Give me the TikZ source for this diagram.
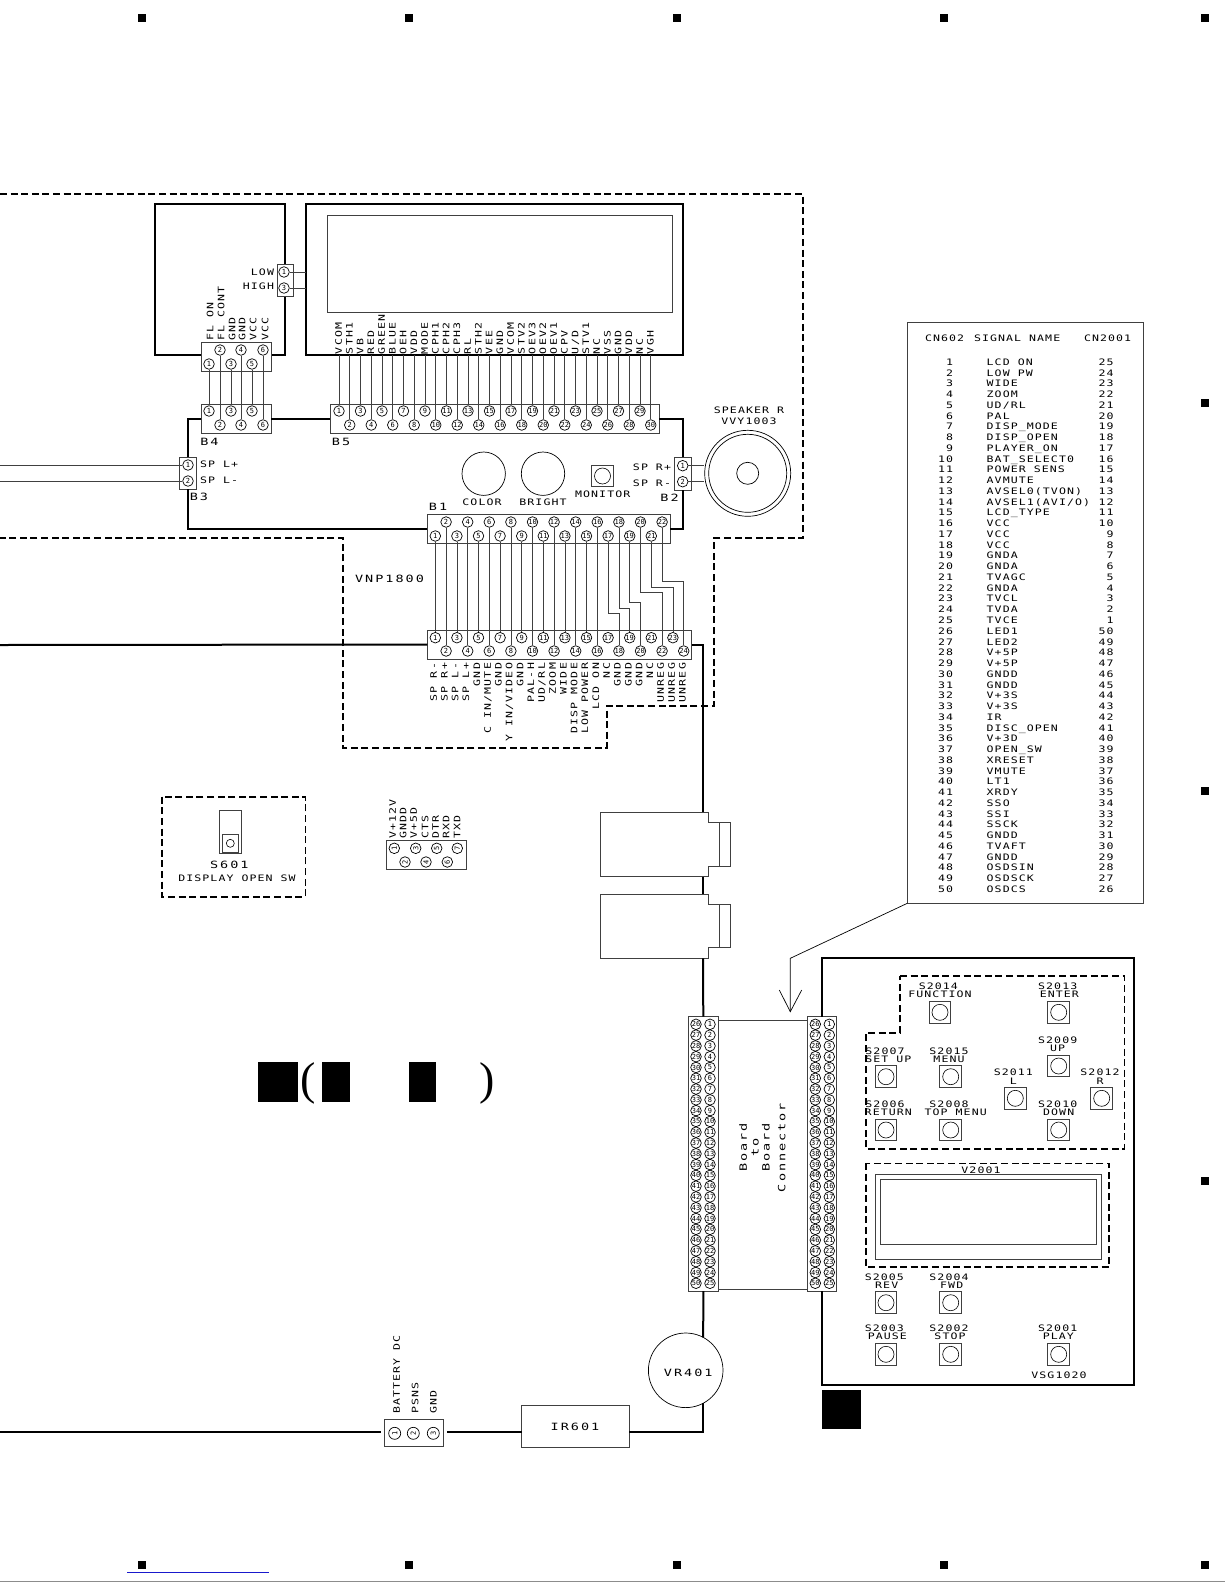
\documentclass[tikz,border=0pt]{standalone}
\usepackage{fontspec}
\setmainfont[FakeStretch=1.3,LetterSpace=12]{DejaVu Sans Mono}
\newfontfamily\widefont[FakeStretch=1.35,LetterSpace=20]{DejaVu Sans Mono}
\newfontfamily\numfont{DejaVu Sans Mono}
\newfontfamily\parfont{Liberation Serif}
\newcommand{\labfont}{\fontsize{8.9}{9}\selectfont}
\newcommand{\bigfont}{\widefont\fontsize{10}{10}\selectfont}
\newcommand{\pinfont}{\numfont\fontsize{7}{7}\selectfont}
\definecolor{wire}{gray}{0.25}
\definecolor{linkblue}{rgb}{0.1,0.1,0.8}
\definecolor{pagerule}{gray}{0.55}

\begin{document}
\begin{tikzpicture}[x=1pt,y=-1pt]
    \tikzset{%
      every node/.style={font=\labfont},
      lab/.style={inner sep=0pt, outer sep=0pt, text height=6.5pt, text depth=0pt},
      big/.style={lab, font=\bigfont, text height=7.3pt},
      uplab/.style={lab, rotate=90, anchor=west},
      dnlab/.style={lab, rotate=90, anchor=east},
      pin/.style={circle, draw, line width=0.7pt, inner sep=0pt, minimum size=10.6pt, font=\pinfont},
      conn/.style={rectangle, draw=wire, fill=white, line width=0.8pt, inner sep=0pt, outer sep=0pt},
      hbox/.style={rectangle, draw, line width=2pt, inner sep=0pt, outer sep=0pt},
      tbox/.style={rectangle, draw=wire, line width=0.8pt, inner sep=0pt, outer sep=0pt},
      btn/.style={tbox, minimum size=21.7pt},
      btnc/.style={circle, draw, line width=0.6pt, inner sep=0pt, minimum size=16pt},
      regmark/.style={rectangle, fill=black, inner sep=0pt, minimum size=8pt},
      blk/.style={rectangle, fill=black, inner sep=0pt, outer sep=0pt},
      hvy/.style={line width=2pt},
      thn/.style={line width=0.7pt, draw=wire},
      dsh/.style={line width=1.6pt, dash pattern=on 7pt off 3.6pt},
    }
    \useasboundingbox (0,0) rectangle (1225,1585);
    \fill[white] (0,0) rectangle (1225,1585);

    % marks on the margins
    \foreach \x/\n in {142.4/a,409/b,676.6/c,944/d,1205/e}{
      \node[regmark] (regt\n) at (\x,18) {};
      \node[regmark] (regb\n) at (\x,1565) {};
    }
    \foreach \y/\n in {403/a,791/b,1180.5/c}{
      \node[regmark] (regr\n) at (1205,\y) {};
    }
    \draw[pagerule, line width=0.6pt] (0,1581.6) -- (1225,1581.6);
    \draw[linkblue, line width=0.7pt] (127,1572.5) -- (269,1572.5);

    % display board outline
    \draw[dsh] (0,194) -- (803,194) -- (803,538) -- (714,538) -- (714,705.7)
      -- (606.7,705.7) -- (606.7,747.7) -- (342.7,747.7) -- (342.7,538) -- (0,538);

    \node[hbox, minimum width=130pt, minimum height=151pt] (flbox) at (220,279.5) {};
    \node[hbox, minimum width=377pt, minimum height=150.5pt] (lcd) at (494.5,279.25) {};
    \node[tbox, minimum width=345pt, minimum height=97pt] (lcdin) at (499.5,263.5) {};

    % LOW / HIGH
    \node[conn, minimum width=16pt, minimum height=32pt] (lohi) at (285,280) {};
    \node[pin] (lh1) at (284,272) {1};
    \node[pin] (lh3) at (284,288) {3};
    \draw[thn] (lh1) -- (lh1 -| lcd.west);
    \draw[thn] (lh3) -- (lh3 -| lcd.west);
    \node[lab, anchor=east] (lowlab) at (274,272.7) {LOW};
    \node[lab, anchor=east] (highlab) at (274,286.7) {HIGH};

    % B4 with its plug
    \node[conn, minimum width=70pt, minimum height=29pt] (flc) at (236,356.5) {};
    \node[conn, minimum width=70pt, minimum height=29pt] (b4) at (236,418.5) {};
    \foreach \i/\x in {1/209,3/231,5/252}{
      \node[pin] (fa\i) at (\x,364) {\i};
      \node[pin] (ba\i) at (\x,411) {\i};
      \draw[thn] (fa\i) -- (ba\i);
    }
    \foreach \i/\x in {2/220,4/241,6/263}{
      \node[pin] (fa\i) at (\x,350) {\i};
      \node[pin] (ba\i) at (\x,425) {\i};
      \draw[thn] (fa\i) -- (ba\i);
    }
    \foreach \t/\x in {FL ON/210,FL CONT/221,GND/232,GND/242,VCC/253,VCC/265}{
      \node[uplab] (fl\x) at (\x,340.7) {\t};
    }
    \node[big] (b4lab) at (209.5,441.7) {B4};

    % B5
    \node[conn, minimum width=329pt, minimum height=29pt] (b5) at (494.5,418.5) {};
    \foreach \i in {1,3,...,29}{
      \node[pin] (b5p\i) at ({339+(\i-1)*10.75},411) {\i};
    }
    \foreach \i in {2,4,...,30}{
      \node[pin] (b5p\i) at ({339+(\i-1)*10.75},425) {\i};
    }
    \foreach \t [count=\i] in {VCOM,STH1,VB,RED,GREEN,BLUE,OEH,VDD,MODE,CPH1,CPH2,CPH3,RL,STH2,VEE,GND,VCOM,STV2,OEV3,OEV2,OEV1,CPV,U/D,STV1,NC,VSS,GND,VDD,NC,VGH}{
      \draw[thn] (b5p\i.north) -- (b5p\i.north |- lcd.south);
      \node[uplab] (b5l\i) at ({338.5+(\i-1)*10.75},354) {\t};
    }
    \node[big] (b5lab) at (341,441.7) {B5};

    % B3, B2
    \node[conn, minimum width=17pt, minimum height=32pt] (b3) at (187.5,473) {};
    \node[pin] (b3p1) at (188,465) {1};
    \node[pin] (b3p2) at (188,481) {2};
    \coordinate (wl1) at (0,465);
    \coordinate (wl2) at (0,481);
    \draw[thn] (wl1) -- (b3p1);
    \draw[thn] (wl2) -- (b3p2);
    \node[lab, anchor=west] (splp) at (200,464.5) {SP L+};
    \node[lab, anchor=west] (spln) at (200,480.5) {SP L-};
    \node[big] (b3lab) at (199,497) {B3};

    \node[conn, minimum width=17pt, minimum height=33pt] (b2) at (682.5,473.5) {};
    \node[pin] (b2p1) at (682.7,465.7) {1};
    \node[pin] (b2p2) at (682.7,481.7) {2};
    \node[lab, anchor=east] (sprp) at (671,467) {SP R+};
    \node[lab, anchor=east] (sprn) at (671,483) {SP R-};
    \node[big] (b2lab) at (669.5,498) {B2};

    % speaker
    \node[circle, draw, line width=0.7pt, inner sep=0pt, minimum size=86pt] (spko) at (747.7,473.3) {};
    \node[circle, draw, line width=0.7pt, inner sep=0pt, minimum size=78pt] (spki) at (747.7,473.3) {};
    \node[circle, draw, line width=0.7pt, inner sep=0pt, minimum size=22pt] (spkc) at (747.7,473.3) {};
    \draw[thn] (b2p1) -- (b2p1 -| spko.west);
    \draw[thn] (b2p2) -- (b2p2 -| spko.west);
    \node[lab] (spklab) at (749,410) {SPEAKER R};
    \node[lab] (vvylab) at (749,421.7) {VVY1003};

    % knobs
    \node[circle, draw, line width=0.7pt, inner sep=0pt, minimum size=43.4pt] (color) at (483.7,473.7) {};
    \node[circle, draw, line width=0.7pt, inner sep=0pt, minimum size=43.4pt] (bright) at (543,473.7) {};
    \node[lab] (colorlab) at (482,502) {COLOR};
    \node[lab] (brightlab) at (543,502) {BRIGHT};
    \node[btn] (monitor) at (602.5,476) {};
    \node[btnc] (monc) at (monitor) {};
    \node[lab] (monlab) at (602.7,494) {MONITOR};

    % B1 and the connector below it
    \node[conn, minimum width=242.7pt, minimum height=29pt] (b1) at (548.6,528.5) {};
    \node[conn, minimum width=264.4pt, minimum height=29pt] (bl) at (559.5,644.5) {};
    \foreach \i in {1,3,...,21}{
      \node[pin] (b1p\i) at ({435.3+(\i-1)*10.8},536) {\i};
    }
    \foreach \i in {2,4,...,22}{
      \node[pin] (b1p\i) at ({435.3+(\i-1)*10.8},522) {\i};
    }
    \foreach \i in {1,3,...,23}{
      \node[pin] (blp\i) at ({435.3+(\i-1)*10.8},637.7) {\i};
    }
    \foreach \i in {2,4,...,24}{
      \node[pin] (blp\i) at ({435.3+(\i-1)*10.8},651) {\i};
    }
    \foreach \i in {1,...,16}{
      \draw[thn] (b1p\i) -- (blp\i);
    }
    \foreach \a/\b/\y in {17/18/613,18/19/608.3,19/20/602.7,20/22/592.3,21/23/587.3,22/24/581.7}{
      \draw[thn] (b1p\a) -- (b1p\a |- 0,\y) -| (blp\b);
    }
    \foreach \t [count=\i] in {SP R-,SP R+,SP L-,SP L+,GND,C IN/MUTE,GND,Y IN/VIDEO,GND,PAL-H,UD/RL,ZOOM,WIDE,DISP MODE,LOW POWER,LCD ON,NC,GND,GND,GND,NC,UNREG,UNREG,UNREG}{
      \node[dnlab] (bll\i) at ({433.5+(\i-1)*10.82},663) {\t};
    }
    \node[big] (b1lab) at (438,507) {B1};
    \node[big] (vnplab) at (389.5,578.7) {VNP1800};

    % board and harness
    \draw[hvy] (b4.west) -| (b3.north);
    \draw[hvy] (b4.east) -- (b5.west);
    \draw[hvy] (b5.east) -| (b2.north);
    \draw[hvy] (b2.south) |- (b1.east);
    \draw[hvy] (b3.south) |- (b1.west);
    \coordinate (wl3) at (0,645);
    \draw[hvy] (wl3) -- (bl.west);

    % S601
    \draw[dsh] (162,796.7) rectangle (305.3,896.7);
    \node[tbox, minimum width=21.7pt, minimum height=42.6pt] (s601) at (230.2,832) {};
    \node[tbox, minimum width=16pt, minimum height=18pt] (s601k) at (230.3,843.3) {};
    \node[circle, draw, line width=0.6pt, inner sep=0pt, minimum size=8pt] (s601c) at (s601k) {};
    \node[big] (s601lab) at (229.3,865) {S601};
    \node[lab] (s601txt) at (237,878.3) {DISPLAY OPEN SW};

    % seven pin connector
    \node[conn, minimum width=80.7pt, minimum height=29.3pt] (p7) at (426.3,854.6) {};
    \foreach \i/\x in {1/394.3,3/415.7,5/436.7,7/457.3}{
      \node[pin, rotate=90] (p7p\i) at (\x,848.3) {\i};
    }
    \foreach \i/\x in {2/405,4/426,6/447.3}{
      \node[pin, rotate=90] (p7p\i) at (\x,862) {\i};
    }
    \foreach \t/\x in {V+12V/392.7,GNDD/403,V+5D/413.7,CTS/425,DTR/435.7,RXD/446,TXD/457}{
      \node[uplab] (p7l\x) at (\x,838.3) {\t};
    }

    % title blanks
    \node[blk, minimum width=40pt, minimum height=40pt] (blka) at (278,1082) {};
    \node[blk, minimum width=28pt, minimum height=40pt] (blkb) at (336,1082) {};
    \node[blk, minimum width=27pt, minimum height=40pt] (blkc) at (422.5,1082) {};
    \node[lab, font=\parfont\fontsize{46}{46}\selectfont, text height=33pt, text depth=8pt] (para) at (308.5,1082) {(};
    \node[lab, font=\parfont\fontsize{46}{46}\selectfont, text height=33pt, text depth=8pt] (parb) at (487.5,1082) {)};

    % jacks
    \coordinate (j1t) at (703,812.3);
    \coordinate (j1b) at (703,876.7);
    \coordinate (j2t) at (703,894);
    \coordinate (j2b) at (703,958.3);
    \draw[thn] (600.7,812.3) -- (708.3,812.3) -- (708.3,822.7) -- (730,822.7) -- (730,866)
      -- (708.3,866) -- (708.3,876.7) -- (600.7,876.7) -- cycle;
    \draw[thn] (719.3,822.7) -- (719.3,866);
    \draw[thn] (600.7,894) -- (708.3,894) -- (708.3,904.3) -- (730,904.3) -- (730,947.3)
      -- (708.3,947.3) -- (708.3,958.3) -- (600.7,958.3) -- cycle;
    \draw[thn] (719.3,904.3) -- (719.3,947.3);
    \draw[hvy] (bl.east) -| (j1t);
    \draw[hvy] (j1b) -- (j2t);

    % board to board connector
    \node[conn, minimum width=30pt, minimum height=274.3pt] (cnl) at (703.3,1153.85) {};
    \node[conn, minimum width=29.7pt, minimum height=274.3pt] (cnr) at (821.85,1153.85) {};
    \draw[hvy] (j2b) -- (cnl.north);
    \foreach \i in {1,...,25}{
      \pgfmathtruncatemacro\j{\i+25}
      \node[pin] (cla\i) at (710,{1024.3+(\i-1)*10.79}) {\i};
      \node[pin] (cla\j) at (696,{1024.3+(\i-1)*10.79}) {\j};
      \node[pin] (cra\i) at (829.3,{1024.3+(\i-1)*10.79}) {\i};
      \node[pin] (cra\j) at (815.3,{1024.3+(\i-1)*10.79}) {\j};
    }
    \draw[thn] (cnl.east |- 0,1020) -- (cnr.west |- 0,1020);
    \draw[thn] (cnl.east |- 0,1289.3) -- (cnr.west |- 0,1289.3);
    \node[big, rotate=90] (bbl1) at (743.3,1147.5) {Board};
    \node[big, rotate=90] (bbl2) at (755,1147.5) {to};
    \node[big, rotate=90] (bbl3) at (766,1147.5) {Board};
    \node[big, rotate=90] (bbl4) at (781.7,1147.5) {Connector};

    % battery, IR, VR
    \node[conn, minimum width=59pt, minimum height=27pt] (bat) at (413.8,1432.5) {};
    \foreach \i/\x in {1/394.7,2/413.3,3/433.3}{
      \node[pin, rotate=90, minimum size=12pt] (batp\i) at (\x,1433.3) {\i};
    }
    \foreach \t/\x in {BATTERY DC/396.7,PSNS/415,GND/433.3}{
      \node[uplab] (batl\x) at (\x,1413.3) {\t};
    }
    \node[tbox, minimum width=107.6pt, minimum height=42pt] (ir) at (575.5,1426.7) {};
    \node[big] (irlab) at (575,1426.7) {IR601};
    \node[circle, draw, line width=0.7pt, inner sep=0pt, outer sep=0pt, minimum size=74.6pt] (vr) at (685.7,1370.3) {};
    \node[big] (vrlab) at (688.3,1372.7) {VR401};
    \coordinate (wl4) at (0,1431.7);
    \coordinate (batw) at (381,1431.7);
    \coordinate (bate) at (447.3,1431.7);
    \coordinate (irw) at (521.7,1431.7);
    \coordinate (ire) at (629.3,1431.7);
    \draw[hvy] (wl4) -- (batw);
    \draw[hvy] (bate) -- (irw);
    \draw[hvy] (vr.-62) |- (ire);
    \draw[hvy] (cnl.south) -- (vr.62);

    % signal table
    \node[tbox, minimum width=236pt, minimum height=580.6pt] (tbl) at (1025.3,613) {};
    \node[lab, anchor=west] (hda) at (925,338.3) {CN602};
    \node[lab, anchor=west] (hdb) at (974,338.3) {SIGNAL NAME};
    \node[lab, anchor=west] (hdc) at (1084,338.3) {CN2001};
    \foreach \s [count=\i] in {LCD ON,LOW PW,WIDE,ZOOM,UD/RL,PAL,DISP\_MODE,DISP\_OPEN,PLAYER\_ON,BAT\_SELECT0,POWER SENS,AVMUTE,AVSEL0(TVON),AVSEL1(AVI/O),LCD\_TYPE,VCC,VCC,VCC,GNDA,GNDA,TVAGC,GNDA,TVCL,TVDA,TVCE,LED1,LED2,V+5P,V+5P,GNDD,GNDD,V+3S,V+3S,IR,DISC\_OPEN,V+3D,OPEN\_SW,XRESET,VMUTE,LT1,XRDY,SSO,SSI,SSCK,GNDD,TVAFT,GNDD,OSDSIN,OSDSCK,OSDCS}{
      \pgfmathtruncatemacro\r{\i<26 ? 26-\i : 76-\i}
      \node[lab, anchor=east] (tla\i) at (953,{362+(\i-1)*10.76}) {\i};
      \node[lab, anchor=west] (tlb\i) at (986.7,{362+(\i-1)*10.76}) {\s};
      \node[lab, anchor=east] (tlc\i) at (1113.5,{362+(\i-1)*10.76}) {\r};
    }
    \coordinate (arb) at (790.3,958.3);
    \coordinate (art) at (790.3,1011.7);
    \coordinate (arl) at (779.3,990);
    \coordinate (arr) at (801.7,990);
    \draw[line width=0.7pt] (tbl.south west) -- (arb) -- (art);
    \draw[line width=0.7pt] (arl) -- (art) -- (arr);

    % front panel
    \coordinate (pna) at (821.85,958);
    \coordinate (pnb) at (1134,958);
    \coordinate (pnc) at (1134,1385);
    \coordinate (pnd) at (821.85,1385);
    \draw[hvy] (cnr.north) -- (pna) -- (pnb) -- (pnc) -- (pnd) -- (cnr.south);
    \draw[dsh] (900,976) -- (1124.3,976) -- (1124.3,1148.7) -- (865.7,1148.7)
      -- (865.7,1032.7) -- (900,1032.7) -- cycle;
    \draw[dsh] (865.7,1163.3) rectangle (1109,1266.7);
    \node[tbox, minimum width=226.4pt, minimum height=85.3pt] (vout) at (988.5,1216.65) {};
    \node[tbox, minimum width=216pt, minimum height=64.7pt] (vin) at (988.7,1211.65) {};
    \node[lab] (vlab) at (981,1170) {V2001};
    \foreach \id/\bx/\by/\ax/\ay/\tx/\ty/\t in {%
      S2014/940/1012.3/938.3/986.7/940/994.3/FUNCTION,
      S2013/1058.7/1012.3/1057.7/986.7/1059.3/994.3/ENTER,
      S2009/1058.7/1066/1057.7/1040/1057.7/1048.3/UP,
      S2007/886/1076.7/885/1051/888.3/1059/SET UP,
      S2015/950.7/1076.7/949/1051/949/1059/MENU,
      S2011/1015.3/1098.3/1013.3/1072.7/1013.3/1081/L,
      S2012/1101.7/1098.3/1100/1072.7/1100/1081/R,
      S2006/886/1130/885/1104.3/888.3/1112.7/RETURN,
      S2008/950.7/1130/949/1104.3/955.7/1112.7/TOP MENU,
      S2010/1058.7/1130/1057.7/1104.3/1058.7/1112.7/DOWN,
      S2005/886/1302.7/884.3/1277/886.7/1285/REV,
      S2004/950.7/1302.7/949/1277/951.7/1285/FWD,
      S2003/886/1354.3/884.3/1328.3/887.3/1336.7/PAUSE,
      S2002/950.7/1354.3/949/1328.3/950/1336.7/STOP,
      S2001/1058.7/1354.3/1057.7/1328.3/1058.3/1336.7/PLAY}{
      \node[btn] (b\id) at (\bx,\by) {};
      \node[btnc] (c\id) at (b\id) {};
      \node[lab] (a\id) at (\ax,\ay) {\id};
      \node[lab] (t\id) at (\tx,\ty) {\t};
    }
    \node[lab] (vsglab) at (1059,1375) {VSG1020};
    \node[blk, minimum width=38.7pt, minimum height=39.3pt] (blkd) at (841.65,1409.65) {};
\end{tikzpicture}
\end{document}
